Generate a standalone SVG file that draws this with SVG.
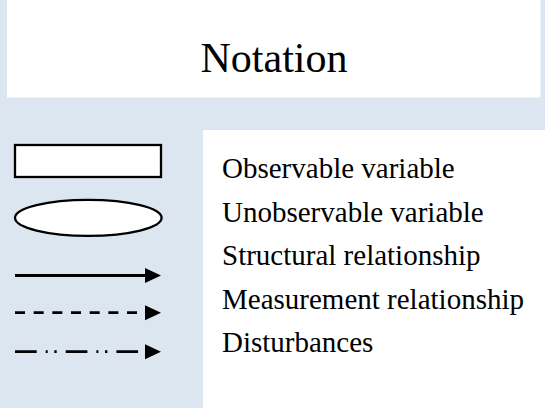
<svg xmlns="http://www.w3.org/2000/svg" width="545" height="408" viewBox="0 0 545 408">
  <style>
    .lbl { font-family: "Liberation Serif", "Times New Roman", serif; font-size: 29px; fill: #000; }
    .title { font-family: "Liberation Serif", "Times New Roman", serif; font-size: 42px; fill: #000; }
    .shape { fill: #fff; stroke: #000; stroke-width: 2.3; }
    .ln { stroke: #000; stroke-width: 2.8; fill: none; }
  </style>
  <defs>
    <marker id="head" markerUnits="userSpaceOnUse" markerWidth="17" markerHeight="16" refX="0" refY="7.5" orient="auto">
      <polygon points="0,0 16,7.5 0,15" fill="#000"/>
    </marker>
  </defs>
  <rect x="0" y="0" width="545" height="408" fill="#dce6f1"/>
  <g id="title-panel">
    <rect x="7" y="0" width="533.5" height="97.5" fill="#fff"/>
    <text class="title" x="274" y="72" text-anchor="middle">Notation</text>
  </g>
  <g id="legend-panel">
    <rect x="203" y="130" width="342" height="278" fill="#fff"/>
  </g>
  <g id="observable">
    <rect class="shape" x="15" y="145" width="146" height="32"/>
    <text class="lbl" x="222" y="178">Observable variable</text>
  </g>
  <g id="unobservable">
    <ellipse class="shape" cx="88.3" cy="217.8" rx="73.3" ry="18"/>
    <text class="lbl" x="222" y="221.5">Unobservable variable</text>
  </g>
  <g id="connectors">
    <line id="structural-line" class="ln" x1="15" y1="275.5" x2="145" y2="275.5" marker-end="url(#head)"/>
    <line id="measurement-line" class="ln" x1="15" y1="312.7" x2="145" y2="312.7" stroke-dasharray="10 8.67" marker-end="url(#head)"/>
    <line id="disturbance-line" class="ln" x1="15" y1="351.7" x2="145" y2="351.7" stroke-dasharray="21.7 9 2 6.6 2.4 9" marker-end="url(#head)"/>
  </g>
  <g id="structural">
    <text class="lbl" x="222" y="265">Structural relationship</text>
  </g>
  <g id="measurement">
    <text class="lbl" x="222" y="308.5">Measurement relationship</text>
  </g>
  <g id="disturbances">
    <text class="lbl" x="222" y="352">Disturbances</text>
  </g>
</svg>
